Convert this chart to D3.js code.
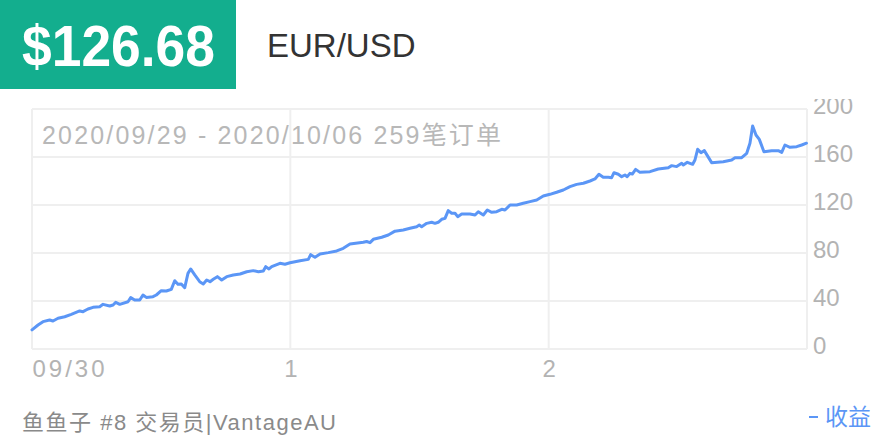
<!DOCTYPE html>
<html>
<head>
<meta charset="utf-8">
<script src="https://cdn.jsdelivr.net/npm/d3@7"></script>
<style>
html,body{margin:0;padding:0;background:#fff;}
svg{display:block;}
text{font-family:"Liberation Sans","Noto Sans CJK SC",sans-serif;}
</style>
</head>
<body>
<svg id="chart" width="880" height="440"></svg>
<script>
// ---- data ----
const profitValue = "$126.68";
const symbol = "EUR/USD";
const rangeLabel = "2020/09/29 - 2020/10/06 259笔订单";
const traderLabel = "鱼鱼子 #8 交易员|VantageAU";
const legendLabel = "收益";
// hours since 2020-09-30 00:00
const hours = [0,0.56,1.02,1.64,1.95,2.42,3.04,3.65,4.43,4.74,5.20,5.67,6.29,6.60,7.22,7.53,7.78,8.15,8.92,9.17,9.54,10.01,10.31,10.62,11.24,11.55,12.01,12.48,12.94,13.26,13.56,13.87,14.19,14.49,14.74,15.12,15.58,15.91,16.23,16.54,16.84,17.22,17.62,18.09,18.70,19.33,19.95,20.56,21.03,21.49,21.71,22.02,22.27,23.04,23.50,23.97,24.90,25.67,25.89,26.29,26.76,27.53,28.31,28.92,29.54,30.78,31.09,31.40,31.71,32.49,33.10,33.72,34.49,35.12,35.74,35.98,36.20,36.67,37.13,37.44,37.74,38.06,38.37,38.67,38.99,39.30,39.55,39.92,40.69,41.16,41.46,41.93,42.30,42.71,43.17,43.64,43.94,44.41,45.03,45.64,46.27,46.89,47.50,48.12,48.74,49.36,49.98,50.60,51.22,51.84,52.30,52.67,53.07,53.54,53.85,54.07,54.47,54.78,55.09,55.30,55.55,55.77,56.08,56.48,57.41,58.18,59.11,59.43,59.89,60.36,60.51,60.88,61.38,61.59,61.84,62.15,62.46,63.14,64.22,65.00,65.31,65.93,66.40,66.70,66.95,67.26,67.57,68.00,68.72,69.33,69.65,69.95,70.42,71.04,71.51,71.95];
const profits = [16,20,22.8,24.2,23.3,25.6,26.9,28.9,31.7,31.1,33.3,34.7,35.3,37.2,35.8,36.7,38.9,37.2,39.4,42.8,40.8,40.8,45,43,43.6,45,48.6,48.3,49.7,56.9,53.9,54.2,51.1,63,66.7,61.7,56.1,54.2,57.5,56.1,58.1,60.3,57.5,60.3,61.7,62.5,64.4,65.3,64.4,65,68.6,66.7,68.6,71.4,70.6,71.9,73.6,74.7,78.6,76.4,79.2,80.3,81.7,83.9,87.5,88.9,89.6,88.6,91.4,93.1,95,98.2,99.2,100.6,101.9,103.3,101.9,104.7,105.6,104.7,105.6,108.1,108.9,115.3,113.1,113.1,110.3,112.5,112.5,111.7,114.4,111.7,115.8,113.9,114.4,116.4,115.8,120,120,121.4,122.8,124.2,127.5,128.9,130.6,132.5,135.3,137.2,138.1,140,141.7,145.6,143.1,143.1,142.8,146.9,145.6,143.6,145,143.6,146.4,145.8,149.7,147.2,147.8,150,151.1,152.8,152,154.7,153.3,155.6,153.9,157.5,166.4,163.6,165.3,155.3,156.1,157.5,159.4,159.4,163.1,171.4,185.8,178.3,174.7,164.4,165.3,165.3,163.9,170,168.1,168.6,170,171.5];
const yTicks = [0,40,80,120,160,200];
const xTickDates = ["2020-09-30","2020-10-01","2020-10-02"];
const xTickLabels = ["09/30","1","2"];

// ---- layout ----
const svg = d3.select("#chart");
const plot = {left:32, right:807, top:109, bottom:349};
const start = new Date(2020,8,30);
const end = new Date(2020,9,3);
const parseDay = d3.timeParse("%Y-%m-%d");

const x = d3.scaleTime().domain([start,end]).range([plot.left,plot.right]);
const y = d3.scaleLinear().domain([0,200]).range([plot.bottom,plot.top]);

const data = hours.map((h,i)=>({t:new Date(start.getTime()+h*3600e3), v:profits[i]}));

// grid
const grid = svg.append("g").attr("stroke","#efefef").attr("stroke-width",2);
grid.selectAll("line.h").data(yTicks).join("line").attr("class","h")
  .attr("x1",plot.left).attr("x2",plot.right)
  .attr("y1",d=>y(d)).attr("y2",d=>y(d));
const vlines = [start, ...xTickDates.slice(1).map(parseDay), end];
grid.selectAll("line.v").data(vlines).join("line").attr("class","v")
  .attr("x1",d=>x(d)).attr("x2",d=>x(d))
  .attr("y1",plot.top).attr("y2",plot.bottom);

// range label
svg.append("text").attr("x",42).attr("y",144)
  .attr("font-size",25).attr("fill","#b8b8b8")
  .attr("textLength",459).attr("lengthAdjust","spacing")
  .text(rangeLabel);

// line
svg.append("path").datum(data)
  .attr("fill","none").attr("stroke","#5b96f6").attr("stroke-width",3)
  .attr("stroke-linejoin","round").attr("stroke-linecap","round")
  .attr("d", d3.line().x(d=>x(d.t)).y(d=>y(d.v)));

// y axis (right)
svg.append("defs").append("clipPath").attr("id","yclip")
  .append("rect").attr("x",800).attr("y",99).attr("width",80).attr("height",300);
const yWrap = svg.append("g").attr("clip-path","url(#yclip)");
const yAxis = yWrap.append("g").attr("transform",`translate(${plot.right},0)`)
  .call(d3.axisRight(y).tickValues(yTicks).tickSize(0).tickPadding(6));
yAxis.select(".domain").remove();
yAxis.selectAll("text").attr("font-size",24).attr("fill","#b3b3b3")
  .attr("font-family",'"Liberation Sans",sans-serif')
  .attr("dy","0.32em").attr("transform","translate(0,-3)");

// x axis
const xAxis = svg.append("g").attr("transform",`translate(0,${plot.bottom})`)
  .call(d3.axisBottom(x).tickValues(xTickDates.map(parseDay)).tickSize(0).tickPadding(11)
    .tickFormat((d,i)=>xTickLabels[i]));
xAxis.select(".domain").remove();
xAxis.selectAll("text").attr("font-size",24).attr("fill","#b3b3b3")
  .attr("font-family",'"Liberation Sans",sans-serif')
  .attr("letter-spacing",(d,i)=>i===0?"3px":"0px")
  .attr("text-anchor",(d,i)=>i===0?"start":"middle");

// header badge
svg.append("rect").attr("x",0).attr("y",0).attr("width",236).attr("height",89).attr("fill","#13ae8e");
svg.append("text").attr("x",22).attr("y",66).attr("fill","#fff")
  .attr("font-family","Roboto,sans-serif").attr("font-weight",700).attr("font-size",57)
  .attr("textLength",193).attr("lengthAdjust","spacingAndGlyphs")
  .text(profitValue);
svg.append("text").attr("x",267).attr("y",57).attr("fill","#333")
  .attr("font-size",33).text(symbol);

// footer
svg.append("text").attr("x",22).attr("y",430).attr("fill","#8a8a8a")
  .attr("font-size",22).attr("textLength",314).attr("lengthAdjust","spacing")
  .text(traderLabel);
const leg = svg.append("g");
leg.append("line").attr("x1",809).attr("x2",818).attr("y1",417).attr("y2",417)
  .attr("stroke","#5b96f6").attr("stroke-width",2);
leg.append("text").attr("x",871).attr("y",425).attr("text-anchor","end")
  .attr("fill","#5b96f6").attr("font-size",23).text(legendLabel);
</script>
</body>
</html>
